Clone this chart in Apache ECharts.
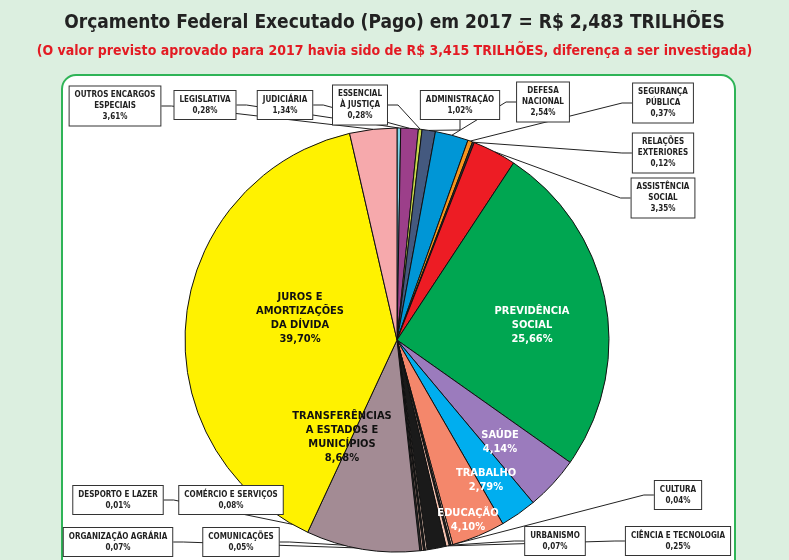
<!DOCTYPE html>
<html><head><meta charset="utf-8">
<script src="https://cdn.jsdelivr.net/npm/echarts@6/dist/echarts.min.js"></script>
<style>html,body{margin:0;padding:0;background:#dcefe0}#c{width:789px;height:560px}</style>
</head><body><div id="c"></div>
<script>
// functions, clockwise from 12 o'clock
const names = ['LEGISLATIVA','JUDICIÁRIA','ESSENCIAL\nÀ JUSTIÇA','ADMINISTRAÇÃO','DEFESA\nNACIONAL','SEGURANÇA\nPÚBLICA','RELAÇÕES\nEXTERIORES','ASSISTÊNCIA\nSOCIAL','PREVIDÊNCIA\nSOCIAL','SAÚDE','TRABALHO','EDUCAÇÃO','CULTURA','URBANISMO','CIÊNCIA E TECNOLOGIA','','COMUNICAÇÕES','ORGANIZAÇÃO AGRÁRIA','COMÉRCIO E SERVIÇOS','DESPORTO E LAZER','TRANSFERÊNCIAS\nA ESTADOS E\nMUNICÍPIOS','JUROS E\nAMORTIZAÇÕES\nDA DÍVIDA','OUTROS ENCARGOS\nESPECIAIS'];
const values = [0.28,1.34,0.28,1.02,2.54,0.37,0.12,3.35,25.66,4.14,2.79,4.10,0.04,0.07,0.25,1.45,0.05,0.07,0.08,0.01,8.68,39.70,3.61];
const colors = ['#7fd4e8','#9c3f8a','#c8d84a','#44597f','#0096d6','#f7941d','#333333','#ed1c24','#00a651','#9b7bbd','#00aeef','#f4876b','#f7c9b6','#2a2a2a','#f4c2b0','#1a1a1a','#f2d0c0','#222222','#e8b8a8','#333333','#a38b94','#fff200','#f6a9ac'];
const inside = [8,9,10,11,20,21];
// label anchor positions (px)
const labelPos = [[205,105],[285,105],[360,105],[460,105],[543,102],[663,103],[663,153],[663,198],[532,325],[500,442],[486,480],[468,520],[678,495],[555,541],[678,541],null,[241,542],[118,542],[231,500],[118,500],[342,437],[300,318],[115,106]];

const chart = echarts.init(document.getElementById('c'));
const fmt = v => v.toFixed(2).replace('.', ',') + '%';
const data = names.map((n, i) => {
  const d = {name: n, value: values[i], itemStyle: {color: colors[i]}};
  if (inside.includes(i)) {
    const white = i < 20;
    d.label = {backgroundColor: 'transparent', borderWidth: 0, padding: 0, color: white ? '#fff' : '#111',
      fontSize: 11, lineHeight: 14, fontWeight: 'bold'};
    d.labelLine = {show: false};
  }
  if (n === '') { d.label = {show: false}; d.labelLine = {show: false}; }
  return d;
});

chart.setOption({
  backgroundColor: '#dcefe0',
  title: [{
    text: 'Orçamento Federal Executado (Pago) em 2017 = R$ 2,483 TRILHÕES',
    left: 'center', top: 9,
    textStyle: {fontFamily: 'Liberation Sans Narrow, DejaVu Sans Condensed', fontSize: 19, fontWeight: 'bold', color: '#222'}
  }, {
    text: '(O valor previsto aprovado para 2017 havia sido de R$ 3,415 TRILHÕES, diferença a ser investigada)',
    left: 'center', top: 39,
    textStyle: {fontFamily: 'Liberation Sans Narrow, DejaVu Sans Condensed', fontSize: 14, fontWeight: 'bold', color: '#e31b23'}
  }],
  graphic: [{
    type: 'rect', z: -1,
    shape: {x: 62, y: 75, width: 673, height: 520, r: 14},
    style: {fill: '#fff', stroke: '#2fb457', lineWidth: 2}
  }],
  series: [{
    type: 'pie',
    center: [397, 340], radius: 212,
    startAngle: 90, clockwise: true,
    avoidLabelOverlap: false, minAngle: 0.5,
    itemStyle: {borderColor: '#111', borderWidth: 1},
    label: {
      formatter: p => p.name + '\n' + fmt(p.value),
      fontFamily: 'DejaVu Sans Condensed', fontSize: 8, fontWeight: 'bold', color: '#222',
      lineHeight: 11, align: 'center',
      backgroundColor: '#fff', borderColor: '#333', borderWidth: 1, padding: [3, 5]
    },
    labelLine: {show: true, length: 10, length2: 10, lineStyle: {color: '#222', width: 1}},
    labelLayout: p => {
      const pos = labelPos[p.dataIndex];
      if (!pos) return {};
      return {x: pos[0], y: pos[1], align: 'center', verticalAlign: 'middle'};
    },
    data: data
  }]
});
</script></body></html>
